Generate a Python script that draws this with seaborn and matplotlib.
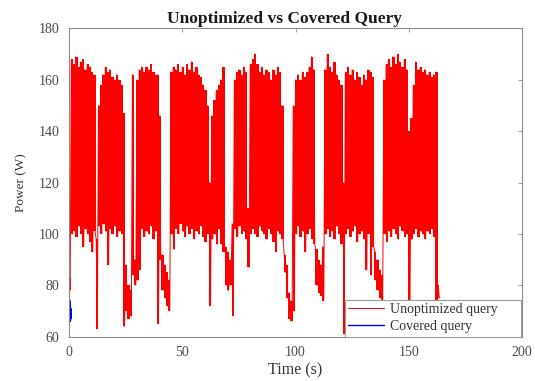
import numpy as np
import pandas as pd
import matplotlib
matplotlib.use("Agg")
import matplotlib.pyplot as plt
import seaborn as sns

# Per-second envelope of the power trace for the unoptimized query (W):
# the upper and lower swing reached inside each one-second interval.
peak_w = [
    83, 168, 166, 169, 165, 167, 168, 164, 166, 165,   # 0-9
    163, 162, 98, 150, 158, 162, 165, 163, 164, 161,   # 10-19
    160, 162, 160, 158, 147, 88, 80, 78, 162, 90,      # 20-29
    160, 164, 165, 163, 165, 164, 166, 163, 162, 162,  # 30-39
    146, 92, 88, 85, 82, 163, 165, 164, 166, 163,      # 40-49
    165, 162, 166, 164, 167, 163, 165, 162, 161, 158,  # 50-59
    156, 150, 120, 146, 152, 156, 158, 160, 165, 95,   # 60-69
    93, 90, 104, 160, 163, 164, 162, 165, 163, 110,    # 70-79
    166, 168, 170, 166, 163, 165, 162, 164, 163, 160,  # 80-89
    164, 162, 165, 163, 150, 92, 88, 77, 74, 150,      # 90-99
    160, 162, 160, 163, 161, 163, 165, 169, 164, 94,   # 100-109
    90, 88, 95, 164, 170, 165, 163, 167, 162, 160,     # 110-119
    158, 120, 163, 165, 162, 164, 160, 163, 161, 158,  # 120-129
    162, 160, 164, 163, 161, 93, 90, 86, 84, 160,      # 130-139
    166, 168, 165, 169, 166, 170, 167, 165, 168, 164,  # 140-149
    140, 145, 158, 167, 164, 165, 163, 164, 162, 163,  # 150-159
    161, 162, 163, 80,                                 # 160-163
]
trough_w = [
    78, 100, 101, 99, 103, 100, 95, 102, 100, 97,      # 0-9
    93, 101, 63, 103, 100, 104, 101, 88, 102, 100,     # 10-19
    103, 99, 101, 100, 64, 70, 67, 68, 84, 80,         # 20-29
    82, 86, 102, 99, 101, 100, 103, 98, 101, 65,       # 30-39
    90, 78, 75, 72, 70, 100, 94, 102, 100, 104,        # 40-49
    101, 99, 103, 100, 102, 98, 101, 100, 103, 99,     # 50-59
    97, 100, 72, 98, 100, 96, 102, 96, 93, 80,         # 60-69
    78, 80, 68, 102, 99, 103, 100, 101, 98, 87,        # 70-79
    100, 102, 100, 99, 103, 101, 100, 98, 102, 100,    # 80-89
    97, 93, 101, 100, 98, 85, 75, 67, 66, 70,          # 90-99
    100, 103, 99, 101, 93, 100, 102, 98, 96, 80,       # 100-109
    77, 76, 74, 100, 102, 99, 101, 98, 103, 100,       # 110-119
    96, 61, 100, 102, 99, 101, 103, 97, 100, 101,      # 120-129
    98, 86, 100, 84, 95, 82, 78, 75, 74, 100,          # 130-139
    97, 101, 99, 102, 100, 98, 103, 101, 99, 100,      # 140-149
    64, 98, 100, 102, 99, 101, 100, 98, 101, 100,      # 150-159
    102, 99, 72, 75,                                   # 160-163
]

# Power trace of the covered query (W), which finishes within the first second.
covered_t = [0.0, 0.2, 0.4, 0.6, 0.8, 1.0]
covered_w = [77, 70, 74, 66, 71, 67]

# Each second contributes its peak then its trough, half a second apart.
sec = np.arange(len(peak_w), dtype=float)
unopt = pd.DataFrame({
    "Time (s)": np.column_stack([sec, sec + 0.5]).ravel(),
    "Power (W)": np.column_stack([peak_w, trough_w]).ravel(),
})
covered = pd.DataFrame({"Time (s)": covered_t, "Power (W)": covered_w})

sns.set_theme(style="white")
plt.rcParams["font.family"] = ["Liberation Serif", "DejaVu Serif"]
plt.rcParams["axes.linewidth"] = 0.8

fig = plt.figure(figsize=(5.35, 3.81), dpi=100)
ax = fig.add_axes([0.129, 0.1163, 0.8467, 0.8089])

RED = "#ff0000"
# The trace oscillates far faster than the pixel grid, so within each second
# its swing reads as a solid band between that second's peak and trough.
ax.fill_between(sec + 0.25, trough_w, peak_w, step="mid", color=RED,
                linewidth=0)
sns.lineplot(data=unopt, x="Time (s)", y="Power (W)", ax=ax, sort=False,
             estimator=None, color=RED, linewidth=0.7,
             label="Unoptimized query")
sns.lineplot(data=covered, x="Time (s)", y="Power (W)", ax=ax, sort=False,
             estimator=None, color="#0000ff", linewidth=1.0,
             label="Covered query")

ax.set_xlim(0, 200)
ax.set_ylim(60, 180)
ax.set_xticks([0, 50, 100, 150, 200])
ax.set_yticks([60, 80, 100, 120, 140, 160, 180])

for side in ax.spines.values():
    side.set_visible(True)
    side.set_color("#8a8a8a")
    side.set_linewidth(0.8)

ax.tick_params(direction="in", top=True, right=True, length=3, width=0.6,
               color="#8a8a8a", labelsize=10, labelcolor="#4a4a4a", pad=7)

ax.set_xlabel("Time (s)", fontsize=11.5, color="#333333", labelpad=2)
ax.set_ylabel("Power (W)", fontsize=9.5, color="#333333", labelpad=8)
ax.set_title("Unoptimized vs Covered Query", fontsize=12.5, fontweight="bold",
             color="#1a1a1a", x=0.476, pad=4)

leg = ax.legend(loc="lower left", bbox_to_anchor=(0.609, 0.0, 0.3885, 0.12),
                mode="expand", borderaxespad=0, fontsize=10,
                handlelength=2.6, handletextpad=0.4, borderpad=0.25,
                labelspacing=0.3, frameon=True, fancybox=False,
                framealpha=1.0, edgecolor="#9a9a9a", facecolor="white")
leg.get_frame().set_linewidth(0.8)
for txt in leg.get_texts():
    txt.set_color("#333333")

fig.savefig("out.png", dpi=100)
